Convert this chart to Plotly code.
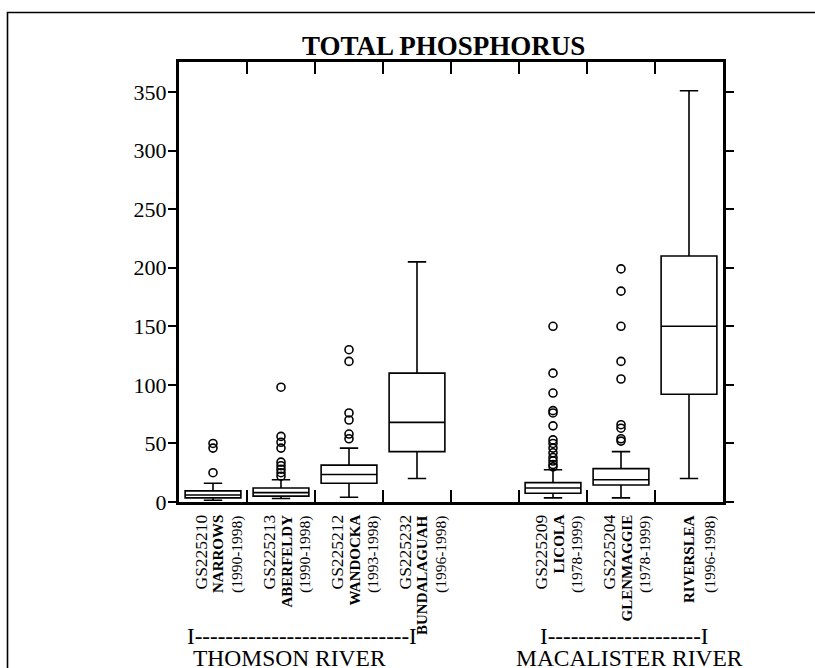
import plotly.graph_objects as go

# Sampling sites (left to right) and their label parts
site_names = ["NARROWS", "ABERFELDY", "WANDOCKA", "BUNDALAGUAH",
              "LICOLA", "GLENMAGGIE", "RIVERSLEA"]
site_codes = ["GS225210", "GS225213", "GS225212", "GS225232",
              "GS225209", "GS225204", ""]
site_periods = ["(1990-1998)", "(1990-1998)", "(1993-1998)", "(1996-1998)",
                "(1978-1999)", "(1978-1999)", "(1996-1998)"]

# Box statistics (total phosphorus, ug/L)
lower_whisker = [1.5, 3, 4, 20, 3.5, 3.5, 20]
quartile_1 = [3.5, 5, 16, 43, 7.5, 14.5, 92]
medians = [6, 8, 23.5, 68, 12, 19, 150]
quartile_3 = [9.5, 12, 31.5, 110, 16.5, 28.5, 210]
upper_whisker = [16, 19, 46, 205, 27.5, 43, 351]

# Individual outlying samples per site
outliers = [
    [25, 46, 50],
    [22, 25, 28, 31, 34, 46, 51, 56, 98],
    [54, 58, 70, 76, 120, 130],
    [],
    [30, 32, 35, 38, 42, 46, 50, 53, 65, 76, 78, 93, 110, 150],
    [52, 54, 63, 66, 105, 120, 150, 180, 199],
    [],
]

# River groupings and the number of dashes in each bracket
river_names = ["THOMSON RIVER", "MACALISTER RIVER"]
river_dashes = [28, 20]

y_ticks = [0, 50, 100, 150, 200, 250, 300, 350]

# Horizontal slot of each site (slot 4 is left empty as a gap between rivers)
SLOTS = [0, 1, 2, 3, 5, 6, 7]
N_SLOTS = 8
FONT = "Liberation Serif"
# bracket spans and river-name centres, in slot units
RIVER_SPANS = [(0.12, 3.5), (5.29, 7.82)]
RIVER_TEXT_X = [1.62, 6.63]

# Pixel geometry of the plotting area
W, H = 815, 668
L, R, T, B = 179, 723, 62, 502
PW, PH = R - L, B - T
Y_MAX = 375.6


def px_to_paper_y(py):
    return (B - py) / PH


def px_to_paper_x(px):
    return (px - L) / PW


centers = [s + 0.5 for s in SLOTS]

fig = go.Figure()

for i, name in enumerate(site_names):
    fig.add_trace(go.Box(
        x=[centers[i]],
        q1=[quartile_1[i]], median=[medians[i]], q3=[quartile_3[i]],
        lowerfence=[lower_whisker[i]], upperfence=[upper_whisker[i]],
        width=0.82, whiskerwidth=0.33,
        line=dict(color="black", width=1.6),
        fillcolor="rgba(255,255,255,0)",
        boxpoints=False, name=name, showlegend=False,
    ))
    if outliers[i]:
        fig.add_trace(go.Scatter(
            x=[centers[i]] * len(outliers[i]), y=outliers[i],
            mode="markers",
            marker=dict(symbol="circle-open", size=8, color="black",
                        line=dict(width=1.6, color="black")),
            showlegend=False, hoverinfo="y",
        ))


def site_label(x, shift, text, size):
    return dict(
        x=x, xref="x", y=0, yref="paper", yshift=-11, xshift=shift,
        text=text, textangle=-90, xanchor="center", yanchor="top",
        showarrow=False, font=dict(family=FONT, size=size, color="black"),
    )


# Rotated site labels under the axis: code, bold name, sampling period
annotations = []
for i, name in enumerate(site_names):
    if site_codes[i]:
        annotations.append(site_label(centers[i], -13, site_codes[i], 17.5))
        annotations.append(site_label(centers[i], 5, "<b>" + name + "</b>", 15))
        annotations.append(site_label(centers[i], 24, site_periods[i], 15.5))
    else:
        annotations.append(site_label(centers[i], 0, "<b>" + name + "</b>", 15))
        annotations.append(site_label(centers[i], 21, site_periods[i], 15.5))

# River group brackets and names
for k, label in enumerate(river_names):
    x0, x1 = RIVER_SPANS[k]
    annotations.append(dict(
        x=(x0 + x1) / 2, xref="x", y=px_to_paper_y(636), yref="paper",
        text="I" + "-" * river_dashes[k] + "I", showarrow=False,
        xanchor="center", yanchor="middle",
        font=dict(family=FONT, size=23, color="black"),
    ))
    annotations.append(dict(
        x=RIVER_TEXT_X[k], xref="x", y=px_to_paper_y(658), yref="paper",
        text=label, showarrow=False,
        xanchor="center", yanchor="middle",
        font=dict(family=FONT, size=23.5, color="black"),
    ))

annotations.append(dict(
    x=px_to_paper_x(443), xref="paper", y=px_to_paper_y(46), yref="paper",
    text="<b>TOTAL PHOSPHORUS</b>", showarrow=False,
    xanchor="center", yanchor="middle",
    font=dict(family=FONT, size=27, color="black"),
))

# Outer frame around the whole figure
shapes = [dict(
    type="rect", xref="paper", yref="paper",
    x0=px_to_paper_x(7.5), y0=px_to_paper_y(700),
    x1=px_to_paper_x(840), y1=px_to_paper_y(12.5),
    line=dict(color="black", width=1.6), fillcolor="rgba(0,0,0,0)",
    layer="below",
)]

fig.update_layout(
    width=W, height=H,
    margin=dict(l=L, r=W - R, t=T, b=H - B, pad=0),
    paper_bgcolor="white", plot_bgcolor="white",
    font=dict(family=FONT, color="black"),
    annotations=annotations, shapes=shapes,
    showlegend=False,
)
fig.update_xaxes(
    range=[0, N_SLOTS], tickvals=list(range(1, N_SLOTS)),
    showticklabels=False, ticks="inside", ticklen=12, tickwidth=1.6,
    tickcolor="black", showline=True, linecolor="black", linewidth=3,
    mirror="ticks", showgrid=False, zeroline=False, fixedrange=True,
)
fig.update_yaxes(
    range=[0, Y_MAX], tickvals=y_ticks, ticktext=[str(v) for v in y_ticks],
    ticks="outside", ticklen=8, tickwidth=1.6, tickcolor="black",
    tickfont=dict(family=FONT, size=22, color="black"),
    ticklabelstandoff=-3,
    showline=True, linecolor="black", linewidth=3,
    mirror="ticks", showgrid=False, zeroline=False, fixedrange=True,
)

fig.write_html("out.html")
